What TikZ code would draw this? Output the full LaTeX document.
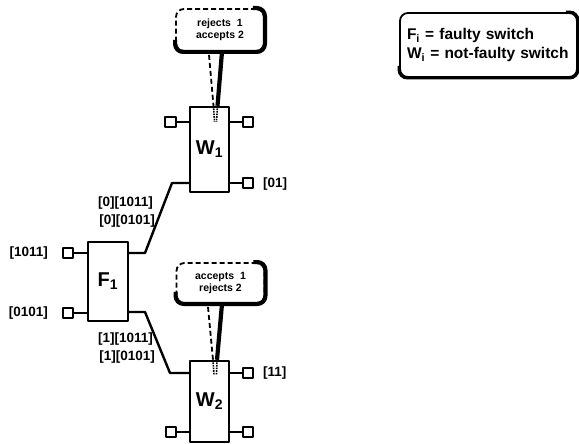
\documentclass[tikz,border=0pt]{standalone}
\usepackage{fontspec}
\setmainfont{Liberation Sans}
\usetikzlibrary{calc}
\begin{document}
\begin{tikzpicture}[x=1pt,y=-1pt,line join=round,
  swbox/.style={draw,line width=2.4pt,minimum width=39pt,inner sep=0pt,fill=white,
    font=\fontsize{20}{20}\selectfont\bfseries},
  port/.style={draw,line width=1.7pt,minimum size=10.5pt,inner sep=0pt,fill=white},
  wire/.style={line width=2.4pt},
  lbl/.style={font=\fontsize{13.5}{14}\selectfont\bfseries,inner sep=0pt},
  callbox/.style={draw,dash pattern=on 5pt off 3pt,line width=1.8pt,rounded corners=8pt,fill=white,
    minimum width=88pt,align=center,inner sep=0pt,
    font=\fontsize{10.5}{12}\selectfont\bfseries},
  shadowline/.style={line width=4.2pt,rounded corners=8pt},
  taildash/.style={dash pattern=on 5pt off 3pt,line width=1.8pt},
  tailthick/.style={line width=4.2pt},
  taildot/.style={densely dotted,line width=1.6pt}]
\useasboundingbox (0,0) rectangle (579,444);

% switches
\node[swbox,minimum height=85pt] (W1) at (209.5,149.5) {W\textsubscript{1}};
\node[swbox,minimum height=81pt] (W2) at (209.5,401.5) {W\textsubscript{2}};
\node[swbox,minimum width=40pt,minimum height=79pt] (F1) at (108,281.5) {F\textsubscript{1}};

% ports of W1
\node[port] (W1a) at (170.5,122) {};
\node[port] (W1b) at (248,122) {};
\node[port] (W1c) at (248,183) {};
\draw[wire] (W1a.east) -- (W1a.east -| W1.west);
\draw[wire] (W1b.west) -- (W1b.west -| W1.east);
\draw[wire] (W1c.west) -- (W1c.west -| W1.east);
\node[lbl,anchor=west] (L01) at (263,184) {[01]};

% ports of W2
\node[port] (W2a) at (248,373) {};
\node[port] (W2b) at (171,432) {};
\node[port] (W2c) at (248,432) {};
\draw[wire] (W2a.west) -- (W2a.west -| W2.east);
\draw[wire] (W2b.east) -- (W2b.east -| W2.west);
\draw[wire] (W2c.west) -- (W2c.west -| W2.east);
\node[lbl,anchor=west] (L11) at (263,373) {[11]};

% ports of F1
\node[port] (F1a) at (68,253) {};
\node[port] (F1b) at (68,313) {};
\draw[wire] (F1a.east) -- (F1a.east -| F1.west);
\draw[wire] (F1b.east) -- (F1b.east -| F1.west);
\node[lbl,anchor=east] (Lin1) at (48,253) {[1011]};
\node[lbl,anchor=east] (Lin2) at (48,313) {[0101]};

% connections F1 -> W1, W2
\coordinate (k1) at (145,253);
\coordinate (k2) at (172,183);
\coordinate (k3) at (145,312);
\coordinate (k4) at (170,373);
\draw[wire] (k1 -| F1.east) -- (k1) -- (k2) -- (k2 -| W1.west);
\draw[wire] (k3 -| F1.east) -- (k3) -- (k4) -- (k4 -| W2.west);
\node[lbl,anchor=east] (La) at (153,203) {[0][1011]};
\node[lbl,anchor=east] (Lb) at (155,221) {[0][0101]};
\node[lbl,anchor=east] (Lc) at (153,339) {[1][1011]};
\node[lbl,anchor=east] (Ld) at (155,357) {[1][0101]};

% callout 1
\node[callbox,minimum height=42pt] (C1) at (220,30) {rejects\ \ 1\\accepts 2};
\draw[shadowline] ($(C1.north east)+(-12,0)$) -- (C1.north east) -- (C1.south east)
  -- (C1.south west) -- ($(C1.south west)+(0,-12)$);
\draw[tailthick] ($(C1.south)+(2,0)$) -- ($(W1.north)+(8,0)$);
\draw[taildash] ($(C1.south)+(-11,3)$) -- ($(W1.north)+(4,0)$);
\draw[taildot] ($(W1.north)+(8,0)$) -- ($(W1.north)+(7,16)$);
\draw[taildot] ($(W1.north)+(4,0)$) -- ($(W1.north)+(5,16)$);

% callout 2
\node[callbox,minimum height=40pt] (C2) at (220.5,283) {accepts\ \ 1\\rejects 2};
\draw[shadowline] ($(C2.north east)+(-12,0)$) -- (C2.north east) -- (C2.south east)
  -- (C2.south west) -- ($(C2.south west)+(0,-12)$);
\draw[tailthick] ($(C2.south)+(1.5,0)$) -- ($(W2.north)+(7.5,0)$);
\draw[taildash] ($(C2.south)+(-12.5,3)$) -- ($(W2.north)+(3.5,0)$);
\draw[taildot] ($(W2.north)+(7.5,0)$) -- ($(W2.north)+(7,15)$);
\draw[taildot] ($(W2.north)+(3.5,0)$) -- ($(W2.north)+(4.5,15)$);

% legend
\node[draw,line width=1.8pt,rounded corners=8pt,minimum width=177pt,minimum height=64pt,
  text width=163pt,inner xsep=7pt,align=left,
  font=\fontsize{15.5}{19}\selectfont\bfseries] (leg) at (488.5,45)
  {F\textsubscript{i} = faulty switch\\W\textsubscript{i} = not-faulty switch};
\draw[line width=3pt,rounded corners=8pt] ($(leg.north east)+(-12,0)$) -- (leg.north east)
  -- (leg.south east) -- (leg.south west) -- ($(leg.south west)+(0,-12)$);
\end{tikzpicture}
\end{document}
